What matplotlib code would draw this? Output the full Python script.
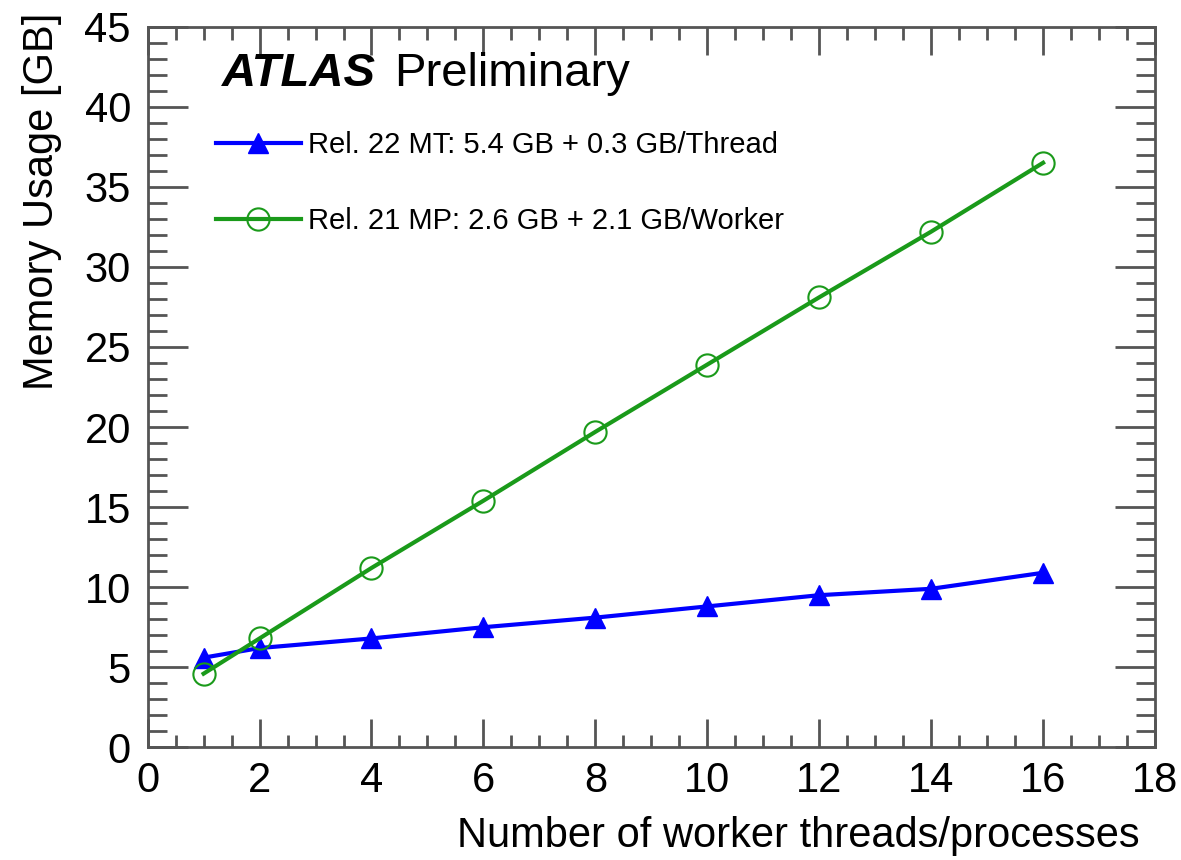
import matplotlib
matplotlib.use('Agg')
import matplotlib.pyplot as plt
from matplotlib.ticker import MultipleLocator

# ---------- Data ----------
x_mt = [1, 2, 4, 6, 8, 10, 12, 14, 16]
mem_mt = [5.6, 6.2, 6.8, 7.5, 8.1, 8.8, 9.5, 9.9, 10.9]

x_mp = [1, 2, 4, 6, 8, 10, 12, 14, 16]
mem_mp = [4.6, 6.8, 11.2, 15.4, 19.7, 23.9, 28.1, 32.2, 36.5]

label_mt = "Rel. 22 MT: 5.4 GB + 0.3 GB/Thread"
label_mp = "Rel. 21 MP: 2.6 GB + 2.1 GB/Worker"

plt.rcParams['font.family'] = ['Liberation Sans', 'DejaVu Sans']

# ---------- Figure ----------
fig = plt.figure(figsize=(11.81, 8.60), dpi=100)
ax = fig.add_axes([0.125, 0.131, 0.853, 0.838])

ax.plot(x_mt, mem_mt, color='#0000ff', lw=3, marker='^', ms=14,
        markeredgecolor='#0000ff', label=label_mt)
ax.plot(x_mp, mem_mp, color='#1a9a1a', lw=3, marker='o', ms=16,
        markerfacecolor='none', markeredgewidth=1.5, label=label_mp)

ax.set_xlim(0, 18)
ax.set_ylim(0, 45)
ax.xaxis.set_major_locator(MultipleLocator(2))
ax.xaxis.set_minor_locator(MultipleLocator(0.5))
ax.yaxis.set_major_locator(MultipleLocator(5))
ax.yaxis.set_minor_locator(MultipleLocator(1))

spine_c = '#555555'
for s in ax.spines.values():
    s.set_color(spine_c)
    s.set_linewidth(2)

ax.tick_params(axis='both', which='both', direction='in', top=True, right=True,
               color=spine_c, width=2, labelsize=30)
ax.tick_params(axis='x', which='major', length=20, pad=10)
ax.tick_params(axis='x', which='minor', length=9)
ax.tick_params(axis='y', which='major', length=29, pad=12)
ax.tick_params(axis='y', which='minor', length=14)

ax.set_xlabel("Number of worker threads/processes", fontsize=30, ha='right')
ax.set_ylabel("Memory Usage [GB]", fontsize=30, ha='right')
ax.xaxis.set_label_coords(0.985, -0.095)
ax.yaxis.set_label_coords(-0.085, 1.02)

# ---------- ATLAS label ----------
ax.text(0.074, 0.935, "ATLAS", transform=ax.transAxes, fontsize=34,
        fontweight='bold', style='italic', va='center')
ax.text(0.245, 0.935, "Preliminary", transform=ax.transAxes, fontsize=34,
        va='center')

ax.legend(loc='upper left', bbox_to_anchor=(0.042, 0.892), frameon=False,
          fontsize=21, handlelength=2.9, labelspacing=1.67, handletextpad=0.25,
          numpoints=1)

fig.savefig('out.png', dpi=100)
